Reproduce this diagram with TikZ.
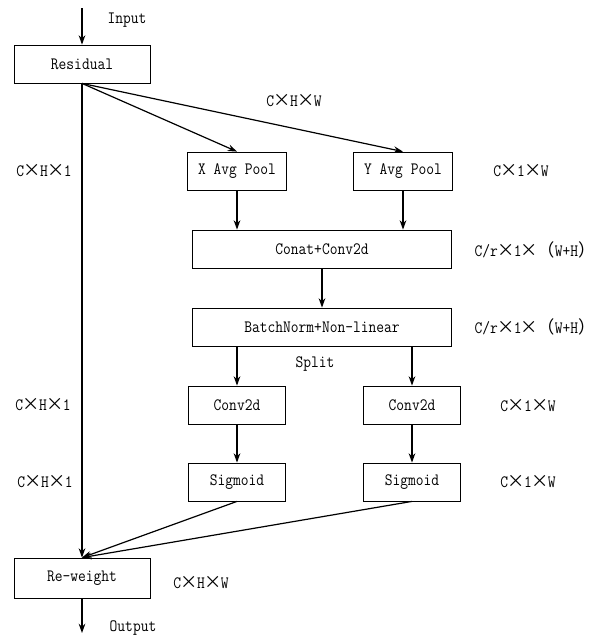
\documentclass[tikz,border=0pt]{standalone}
\usepackage{fontspec}
\setmainfont[FakeStretch=0.87]{Latin Modern Mono}
\newfontfamily\cjk{Noto Sans CJK SC}
\usetikzlibrary{arrows.meta}
\newcommand{\tm}{\makebox[0.92em]{\cjk ×}}
\newcommand{\lp}{{\cjk （}}
\newcommand{\rp}{{\cjk ）}}

\begin{document}
\begin{tikzpicture}[x=0.75pt,y=-0.75pt,>={Stealth[length=7pt,width=5pt]},
    font=\fontsize{13pt}{15pt}\selectfont,
    box/.style={draw,line width=0.6pt,minimum height=28.5pt,inner sep=2pt},
    every path/.style={line width=0.9pt}]
  \useasboundingbox (0,0) rectangle (595,639);
  % blocks
  \node[box,minimum width=102pt] (res) at (82,64) {Residual};
  \node[box,minimum width=74pt] (xpool) at (237,171) {X Avg Pool};
  \node[box,minimum width=74pt] (ypool) at (403,171) {Y Avg Pool};
  \node[box,minimum width=194pt] (cat) at (322,249) {Conat+Conv2d};
  \node[box,minimum width=194pt] (bn) at (322,327) {BatchNorm+Non-linear};
  \node[box,minimum width=73pt] (convx) at (237,405) {Conv2d};
  \node[box,minimum width=73pt] (convy) at (412,405) {Conv2d};
  \node[box,minimum width=73pt] (sigx) at (237,482) {Sigmoid};
  \node[box,minimum width=73pt] (sigy) at (412,482) {Sigmoid};
  \node[box,minimum width=102pt,minimum height=30pt] (rew) at (82,578) {Re-weight};
  \coordinate (in) at (82,8);
  \coordinate (out) at (82,633);
  % shapes of the tensors
  \node (lin) at (127,20) {Input};
  \node (lout) at (133,628) {Output};
  \node (dres) at (294,101) {C\tm H\tm W};
  \node (dxl) at (44,171) {C\tm H\tm 1};
  \node (dyp) at (521,171) {C\tm 1\tm W};
  \node (dcat) at (535,250) {C/r\tm 1\tm\lp W+H\rp};
  \node (dbn) at (535,327) {C/r\tm 1\tm\lp W+H\rp};
  \node (split) at (315,364) {Split};
  \node (dconvl) at (43,405) {C\tm H\tm 1};
  \node (dconvr) at (528,406) {C\tm 1\tm W};
  \node (dsigl) at (45,482) {C\tm H\tm 1};
  \node (dsigr) at (528,482) {C\tm 1\tm W};
  \node (drew) at (201,583) {C\tm H\tm W};
  % connectors
  \draw[->] (in) -- (res);
  \draw[->] (res.south) -- (rew.north);
  \draw[->] (res.south) -- (xpool.north);
  \draw[->] (res.south) -- (ypool.north);
  \draw[->] (xpool.south) -- (xpool.south |- cat.north);
  \draw[->] (ypool.south) -- (ypool.south |- cat.north);
  \draw[->] (cat) -- (bn);
  \draw[->] (convx.north |- bn.south) -- (convx);
  \draw[->] (convy.north |- bn.south) -- (convy);
  \draw[->] (convx) -- (sigx);
  \draw[->] (convy) -- (sigy);
  \draw[->] (sigx.south) -- (rew.north);
  \draw[->] (sigy.south) -- (rew.north);
  \draw[->] (rew) -- (out);
\end{tikzpicture}
\end{document}
